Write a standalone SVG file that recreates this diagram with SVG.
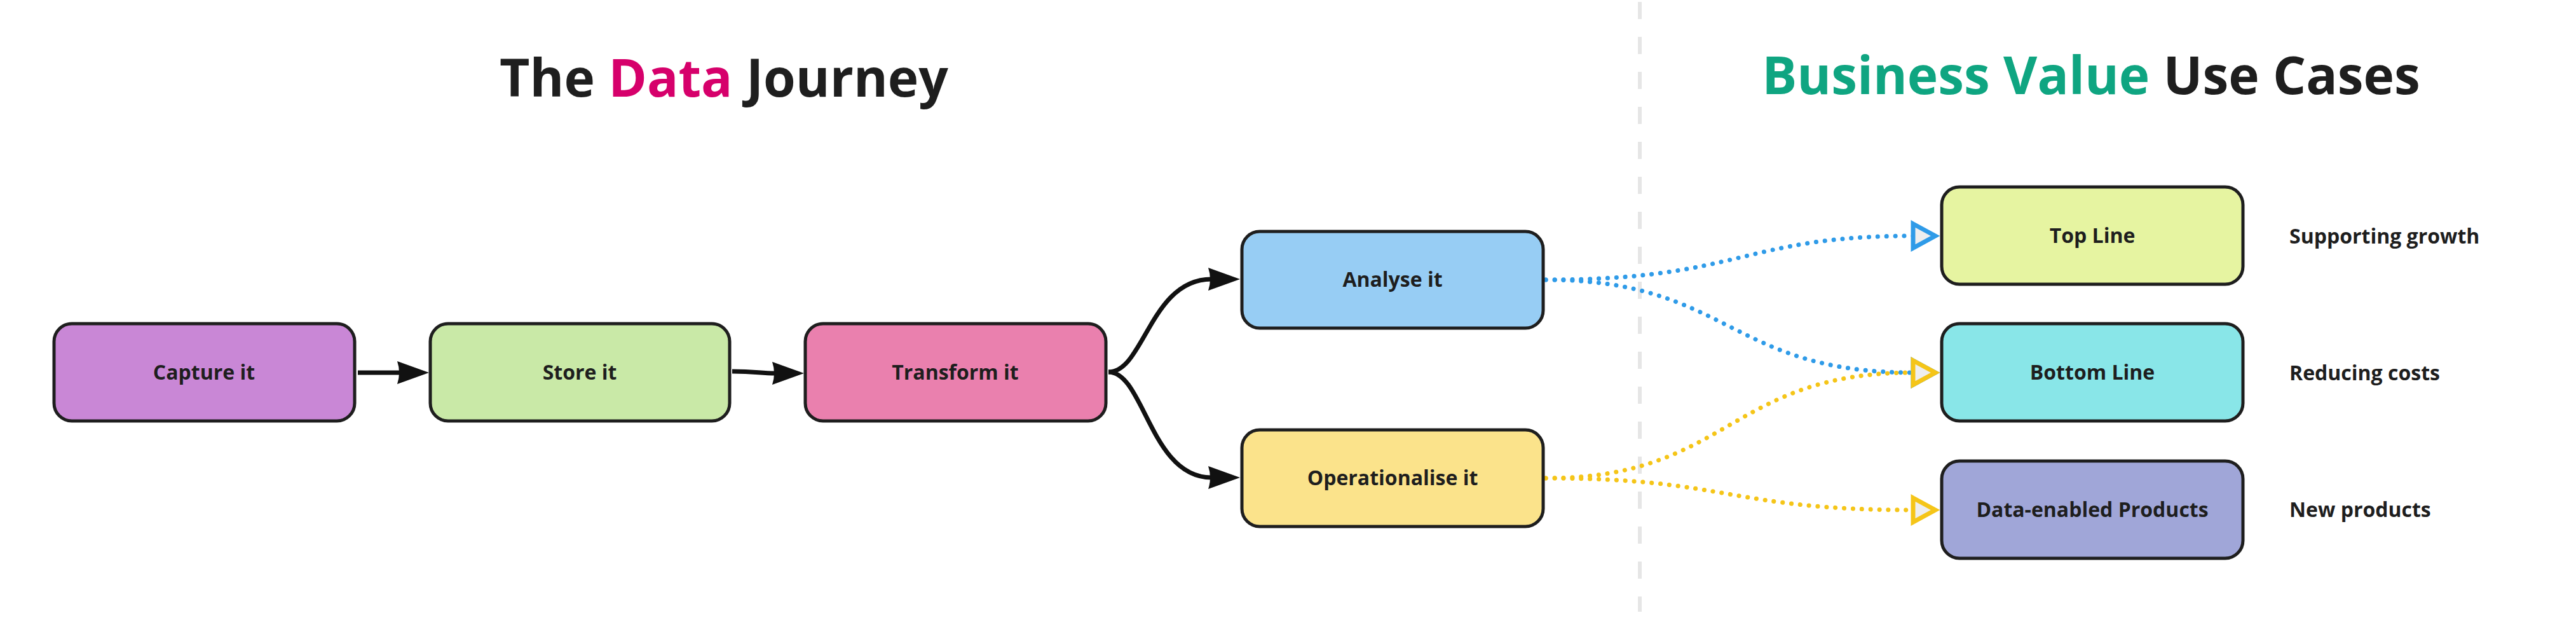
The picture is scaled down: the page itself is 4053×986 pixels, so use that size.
<svg xmlns="http://www.w3.org/2000/svg" width="4053" height="986" viewBox="0 0 4053 986">
<style>
.box{stroke:#1e1e1e;stroke-width:5}
.lbl{font-family:"Open Sans","Liberation Sans",sans-serif;font-weight:700;font-size:32px;fill:#1e1e1e;text-anchor:middle}
.side{font-family:"Open Sans","Liberation Sans",sans-serif;font-weight:700;font-size:32px;fill:#1e1e1e}
.title{font-family:"Open Sans","Liberation Sans",sans-serif;font-weight:700;font-size:82px;fill:#1e1e1e;text-anchor:middle}
.solid{fill:none;stroke:#111;stroke-width:7;marker-end:url(#ab)}
.dotb{fill:none;stroke:#2f9be8;stroke-width:7;stroke-linecap:round;stroke-dasharray:0.1 13.8;marker-end:url(#hb)}
.doty{fill:none;stroke:#f5c518;stroke-width:7;stroke-linecap:round;stroke-dasharray:0.1 13.8;marker-end:url(#hy)}
</style>
<defs>
<marker id="ab" markerUnits="userSpaceOnUse" markerWidth="70" markerHeight="50" viewBox="-10 -25 70 50" refX="0" refY="0" orient="auto" overflow="visible">
<path d="M45,0 L-5,-18 Q1,0 -5,18 Z" fill="#111"/>
</marker>
<marker id="hb" markerUnits="userSpaceOnUse" markerWidth="70" markerHeight="70" viewBox="-10 -35 70 70" refX="0" refY="0" orient="auto" overflow="visible">
<path d="M0,-19 L35,0 L0,19 Z" fill="#eeeeee" stroke="#2f9be8" stroke-width="7" stroke-linejoin="miter"/>
</marker>
<marker id="hy" markerUnits="userSpaceOnUse" markerWidth="70" markerHeight="70" viewBox="-10 -35 70 70" refX="0" refY="0" orient="auto" overflow="visible">
<path d="M0,-19 L35,0 L0,19 Z" fill="#eeeeee" stroke="#f5c518" stroke-width="7" stroke-linejoin="miter"/>
</marker>
</defs>
<rect width="4053" height="986" fill="#ffffff"/>
<g id="divider"><line x1="2580" y1="3" x2="2580" y2="962" stroke="#e6e6e6" stroke-width="6" stroke-dasharray="27 28"/></g>
<g id="titles">
<text class="title" x="1139" y="152">The <tspan fill="#d6006b">Data</tspan> Journey</text>
<text class="title" x="3290" y="148"><tspan fill="#0fa581">Business Value</tspan> Use Cases</text>
</g>
<g id="connectors">
<path class="solid" d="M563,586 L630,586"/>
<path class="solid" d="M1152,584 C1190,584 1195,587 1220,587"/>
<path class="solid" d="M1744,585 C1800,585 1810,439 1906,439"/>
<path class="solid" d="M1744,585 C1800,585 1810,751 1906,751"/>
<path class="dotb" d="M2432,440 C2740,440 2740,371 3010,371"/>
<path class="dotb" d="M2432,440 C2720,440 2720,586 3010,586"/>
<path class="doty" d="M2432,752 C2720,752 2720,586 3010,586"/>
<path class="doty" d="M2432,752 C2720,752 2720,802 3010,802"/>
</g>
<g id="capture"><rect class="box" x="85" y="509" width="473" height="153" rx="28" fill="#c987d6"/><text class="lbl" x="321" y="597">Capture it</text></g>
<g id="store"><rect class="box" x="677" y="509" width="471" height="153" rx="28" fill="#c9e9a7"/><text class="lbl" x="912" y="597">Store it</text></g>
<g id="transform"><rect class="box" x="1267" y="509" width="473" height="153" rx="28" fill="#ea80ae"/><text class="lbl" x="1503" y="597">Transform it</text></g>
<g id="analyse"><rect class="box" x="1954" y="364" width="474" height="152" rx="28" fill="#97cdf4"/><text class="lbl" x="2191" y="451">Analyse it</text></g>
<g id="operationalise"><rect class="box" x="1954" y="676" width="474" height="152" rx="28" fill="#fbe38b"/><text class="lbl" x="2191" y="763">Operationalise it</text></g>
<g id="topline"><rect class="box" x="3055" y="294" width="474" height="153" rx="28" fill="#e6f4a1"/><text class="lbl" x="3292" y="382">Top Line</text></g>
<g id="bottomline"><rect class="box" x="3055" y="509" width="474" height="153" rx="28" fill="#89e6e8"/><text class="lbl" x="3292" y="597">Bottom Line</text></g>
<g id="dataproducts"><rect class="box" x="3055" y="725" width="474" height="153" rx="28" fill="#a0a6d8"/><text class="lbl" x="3292" y="813">Data-enabled Products</text></g>
<g id="labels">
<text class="side" x="3602" y="383">Supporting growth</text>
<text class="side" x="3602" y="598">Reducing costs</text>
<text class="side" x="3602" y="813">New products</text>
</g>
</svg>
